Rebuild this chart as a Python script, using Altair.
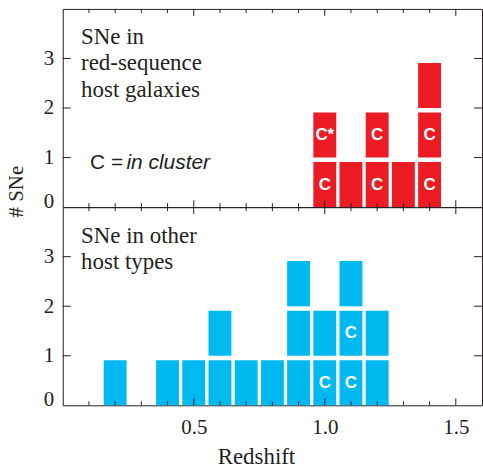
import altair as alt
import pandas as pd

# Supernovae in red-sequence hosts: redshift bin, stack level, cluster tag
red_z = [1.0, 1.0, 1.1, 1.2, 1.2, 1.3, 1.4, 1.4, 1.4]
red_level = [0, 1, 0, 0, 1, 0, 0, 1, 2]
red_tag = ["C", "C*", "", "C", "C", "", "C", "C", ""]

# Supernovae in all other host types
blue_z = [0.2, 0.4, 0.5, 0.6, 0.6, 0.7, 0.8, 0.9, 0.9, 0.9,
          1.0, 1.0, 1.1, 1.1, 1.1, 1.2, 1.2]
blue_level = [0, 0, 0, 0, 1, 0, 0, 0, 1, 2,
              0, 1, 0, 1, 2, 0, 1]
blue_tag = ["", "", "", "", "", "", "", "", "", "",
            "C", "", "C", "C", "", "", ""]

x_labels = [0.5, 1.0, 1.5]
x_minor = [0.1, 0.2, 0.3, 0.4, 0.6, 0.7, 0.8, 0.9, 1.1, 1.2, 1.3, 1.4]
y_labels = [0, 1, 2, 3]
y_ticks = [1, 2, 3]

RED = "#ED1C24"
BLUE = "#00B9F1"
INK = "#231F20"
SERIF = "Liberation Serif"
SANS = "Liberation Sans"

W, H = 421, 199
HALF = 0.0437   # half width of one block, in redshift units
TALL = 0.91     # height of one block, in counts

xs = alt.Scale(domain=[0, 1.6], nice=False, zero=False)
ys = alt.Scale(domain=[0, 4], nice=False, zero=False)

ZERO_LOW = {"condition": {"test": "datum.value == 0", "value": "alphabetic"},
            "value": "middle"}


def panel(z, level, tag, color, caption, caption_y, bottom):
    df = pd.DataFrame({"z": z, "level": level, "tag": tag})

    if bottom:
        x_axis = alt.Axis(values=x_labels, format=".1f", labelPadding=11,
                          title="Redshift", titleX=194, titleY=58,
                          titleFontSize=23,
                          titleBaseline="alphabetic", titleAlign="center",
                          titleAnchor="start")
        y_axis = alt.Axis(values=y_labels, format="d", labelPadding=9,
                          labelBaseline=ZERO_LOW, title=None)
    else:
        x_axis = None
        y_axis = alt.Axis(values=y_labels, format="d", labelPadding=9,
                          labelBaseline=ZERO_LOW,
                          title="# SNe", titleX=-40, titleY=183,
                          titleAngle=270, titleAlign="center",
                          titleBaseline="alphabetic")

    def X(field):
        return alt.X(field, type="quantitative", scale=xs, axis=x_axis)

    def Y(field):
        return alt.Y(field, type="quantitative", scale=ys, axis=y_axis)

    blocks = alt.Chart(df).transform_calculate(
        x0=f"datum.z - {HALF}", x1=f"datum.z + {HALF}",
        y0="datum.level", y1=f"datum.level + {TALL}",
    ).mark_rect(color=color).encode(
        x=X("x0"), x2="x1", y=Y("y0"), y2="y1",
    )

    tags = alt.Chart(df).transform_filter("datum.tag != ''").transform_calculate(
        ym=f"datum.level + {TALL / 2}"
    ).mark_text(font=SANS, fontWeight="bold", fontSize=17, color="white",
                align="center", baseline="middle").encode(
        x=X("z"), y=Y("ym"), text="tag:N",
    )

    anchor = pd.DataFrame({"z": [0.07], "n": [caption_y]})
    cap = alt.Chart(anchor).mark_text(
        text=caption, font=SERIF, fontSize=23, color=INK, align="left",
        baseline="alphabetic", lineHeight=26.7,
    ).encode(x=X("z"), y=Y("n"))

    layers = [blocks, tags, cap]

    # inward tick marks on all four sides of the frame
    minor = pd.DataFrame({"z": x_minor})
    major = pd.DataFrame({"z": x_labels})
    yt = pd.DataFrame({"n": y_ticks})
    for tdf, ln in ((minor, 4), (major, 7)):
        layers.append(alt.Chart(tdf).mark_rule(color=INK, strokeWidth=1).encode(
            x=X("z"), y=alt.value(H), y2=alt.value(H - ln)))
        layers.append(alt.Chart(tdf).mark_rule(color=INK, strokeWidth=1).encode(
            x=X("z"), y=alt.value(0), y2=alt.value(ln)))
    layers.append(alt.Chart(yt).mark_rule(color=INK, strokeWidth=1).encode(
        y=Y("n"), x=alt.value(0), x2=alt.value(8)))
    layers.append(alt.Chart(yt).mark_rule(color=INK, strokeWidth=1).encode(
        y=Y("n"), x=alt.value(W), x2=alt.value(W - 8)))

    if not bottom:
        key1 = pd.DataFrame({"z": [0.104], "n": [0.76]})
        key2 = pd.DataFrame({"z": [0.243], "n": [0.76]})
        layers.append(alt.Chart(key1).mark_text(
            text="C =", font=SANS, fontSize=21, color=INK, align="left",
            baseline="alphabetic").encode(x=X("z"), y=Y("n")))
        layers.append(alt.Chart(key2).mark_text(
            text="in cluster", font=SANS, fontSize=21, fontStyle="italic",
            color=INK, align="left", baseline="alphabetic").encode(
            x=X("z"), y=Y("n")))

    return alt.layer(*layers).properties(width=W, height=H)


top = panel(red_z, red_level, red_tag, RED,
            ["SNe in", "red-sequence", "host galaxies"], 3.30, bottom=False)
bottom = panel(blue_z, blue_level, blue_tag, BLUE,
               ["SNe in other", "host types"], 3.28, bottom=True)

chart = alt.vconcat(top, bottom, spacing=0, bounds="flush").properties(
    padding={"left": 5, "top": 7, "right": 0, "bottom": 0}
).configure_view(
    stroke=INK, strokeWidth=1
).configure_axis(
    labelFont=SERIF, labelFontSize=21, labelColor=INK,
    titleFont=SERIF, titleFontSize=21, titleFontWeight="normal", titleColor=INK,
    domain=False, ticks=False, grid=False,
)

chart.save("out.html", embed_options={"renderer": "svg", "actions": False})
